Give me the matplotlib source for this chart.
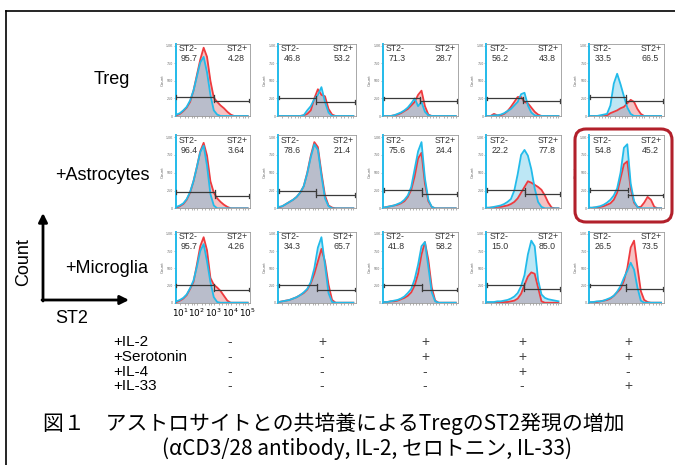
import numpy as np
import matplotlib
matplotlib.use("Agg")
import matplotlib.pyplot as plt
from matplotlib.patches import FancyBboxPatch

# ---------------- data ----------------
# ST2 fluorescence grid (log10 decades)
X = [0.8, 1.0, 1.2, 1.4, 1.6, 1.8, 2.0, 2.2, 2.4, 2.6, 2.8, 3.0, 3.2, 3.4, 3.6, 3.8, 4.0, 4.2, 4.4, 4.6, 4.8, 5.0]

row_labels = ["Treg", "+Astrocytes", "+Microglia"]

# relative counts (fraction of panel max), 5 conditions per row
treg_blue = [
    [0.02,0.04,0.08,0.13,0.22,0.36,0.56,0.76,0.84,0.62,0.30,0.08,0.02,0,0,0,0,0,0,0,0,0],
    [0,0,0,0,0,0,0,0.01,0.08,0.14,0.24,0.30,0.41,0.20,0.05,0,0,0,0,0,0,0],
    [0,0,0,0.01,0.03,0.05,0.08,0.12,0.18,0.25,0.14,0.20,0.06,0.01,0,0,0,0,0,0,0,0],
    [0,0,0.01,0.01,0.02,0.04,0.07,0.10,0.15,0.20,0.31,0.33,0.15,0.05,0.01,0,0,0,0,0,0,0],
    [0,0,0,0.01,0.02,0.03,0.15,0.46,0.60,0.45,0.28,0.12,0.03,0,0,0,0,0,0,0,0,0],
]
treg_red = [
    [0.01,0.03,0.07,0.12,0.20,0.36,0.58,0.80,0.97,0.84,0.50,0.26,0.20,0.15,0.11,0.06,0.02,0,0,0,0,0],
    [0,0,0,0,0,0,0,0.01,0.03,0.08,0.25,0.38,0.30,0.28,0.10,0.02,0,0,0,0,0,0],
    [0,0,0,0.01,0.02,0.04,0.07,0.10,0.15,0.20,0.30,0.36,0.14,0.02,0,0,0,0,0,0,0,0],
    [0,0,0.03,0.01,0.01,0.03,0.07,0.13,0.20,0.27,0.27,0.20,0.18,0.12,0.06,0.02,0,0,0,0,0,0],
    [0,0,0,0,0,0.01,0.04,0.06,0.08,0.11,0.13,0.18,0.23,0.20,0.10,0.03,0,0,0,0,0,0],
]
astro_blue = [
    [0.02,0.04,0.07,0.13,0.23,0.38,0.58,0.79,0.88,0.60,0.20,0.04,0,0,0,0,0,0,0,0,0,0],
    [0.02,0.03,0.06,0.09,0.12,0.16,0.22,0.31,0.49,0.72,0.90,0.82,0.46,0.14,0.03,0,0,0,0,0,0,0],
    [0.01,0.02,0.03,0.04,0.06,0.08,0.12,0.18,0.30,0.55,0.80,0.93,0.42,0.12,0.02,0,0,0,0,0,0,0],
    [0.01,0.01,0.02,0.03,0.04,0.06,0.09,0.13,0.25,0.48,0.75,0.82,0.74,0.55,0.28,0.09,0.02,0,0,0,0,0],
    [0.01,0.01,0.02,0.03,0.05,0.08,0.12,0.18,0.28,0.50,0.85,0.90,0.35,0.10,0.02,0,0,0,0,0,0,0],
]
astro_red = [
    [0.01,0.03,0.06,0.12,0.22,0.38,0.58,0.80,0.92,0.74,0.38,0.22,0.14,0.09,0.05,0.02,0,0,0,0,0,0],
    [0.01,0.03,0.06,0.09,0.12,0.16,0.22,0.31,0.50,0.74,0.93,0.86,0.50,0.18,0.04,0.01,0,0,0,0,0,0],
    [0.01,0.02,0.03,0.04,0.05,0.07,0.10,0.16,0.26,0.45,0.70,0.78,0.35,0.10,0.02,0,0,0,0,0,0,0],
    [0,0.01,0.01,0.02,0.02,0.03,0.04,0.06,0.09,0.14,0.22,0.30,0.38,0.36,0.33,0.30,0.26,0.18,0.08,0.01,0,0],
    [0,0.01,0.01,0.02,0.03,0.05,0.07,0.12,0.22,0.42,0.62,0.66,0.28,0.08,0.02,0.02,0.08,0.16,0.12,0.02,0,0],
]
micro_blue = [
    [0.02,0.04,0.07,0.12,0.21,0.32,0.52,0.75,0.85,0.60,0.30,0.08,0.01,0,0,0,0,0,0,0,0,0],
    [0.01,0.02,0.03,0.04,0.06,0.08,0.11,0.15,0.20,0.30,0.50,0.80,0.95,0.55,0.14,0.01,0,0,0,0,0,0],
    [0.01,0.01,0.02,0.03,0.04,0.06,0.09,0.14,0.20,0.34,0.55,0.82,0.88,0.52,0.15,0.02,0,0,0,0,0,0],
    [0.01,0.01,0.01,0.02,0.02,0.03,0.04,0.06,0.09,0.14,0.24,0.40,0.70,0.90,0.82,0.33,0.12,0.07,0.05,0.04,0.03,0.02],
    [0.01,0.01,0.02,0.02,0.03,0.05,0.07,0.10,0.16,0.24,0.36,0.46,0.58,0.48,0.22,0.03,0,0,0,0,0,0],
]
micro_red = [
    [0.01,0.03,0.06,0.11,0.20,0.30,0.55,0.82,0.95,0.76,0.36,0.26,0.22,0.17,0.10,0.03,0,0,0,0,0,0],
    [0.01,0.02,0.03,0.04,0.06,0.08,0.11,0.14,0.19,0.28,0.42,0.60,0.78,0.60,0.26,0.04,0,0,0,0,0,0],
    [0.01,0.01,0.02,0.02,0.03,0.05,0.07,0.10,0.15,0.25,0.42,0.70,0.88,0.62,0.22,0.03,0,0,0,0,0,0],
    [0,0,0,0,0,0.01,0.01,0.02,0.03,0.06,0.13,0.26,0.38,0.44,0.42,0.22,0.02,0,0,0,0,0],
    [0,0.01,0.01,0.02,0.03,0.04,0.06,0.10,0.15,0.20,0.32,0.50,0.80,0.90,0.52,0.17,0.04,0.01,0,0,0,0],
]

st2_neg = [["95.7", "46.8", "71.3", "56.2", "33.5"],
           ["96.4", "78.6", "75.6", "22.2", "54.8"],
           ["95.7", "34.3", "41.8", "15.0", "26.5"]]
st2_pos = [["4.28", "53.2", "28.7", "43.8", "66.5"],
           ["3.64", "21.4", "24.4", "77.8", "45.2"],
           ["4.26", "65.7", "58.2", "85.0", "73.5"]]

gate_thr = [[3.00, 2.92, 2.92, 2.92, 2.91],
            [3.06, 2.92, 3.01, 3.03, 3.04],
            [3.00, 2.97, 3.00, 3.00, 2.95]]
gate_neg_h = [[0.27, 0.26, 0.25, 0.25, 0.27],
              [0.23, 0.24, 0.26, 0.26, 0.26],
              [0.25, 0.25, 0.25, 0.26, 0.25]]
gate_pos_h = [[0.22, 0.20, 0.21, 0.21, 0.21],
              [0.17, 0.19, 0.20, 0.20, 0.18],
              [0.19, 0.19, 0.19, 0.20, 0.20]]

x_tick_labels = ["$10^{1}$", "$10^{2}$", "$10^{3}$", "$10^{4}$", "$10^{5}$"]

treatments = ["+IL-2", "+Serotonin", "+IL-4", "+IL-33"]
treatment_marks = [["-", "+", "+", "+", "+"],
                   ["-", "-", "+", "+", "+"],
                   ["-", "-", "-", "+", "-"],
                   ["-", "-", "-", "-", "+"]]

caption1 = "図１　アストロサイトとの共培養によるTregのST2発現の増加"
caption2 = "(αCD3/28 antibody, IL-2, セロトニン, IL-33)"

# ---------------- style / layout ----------------
W, H = 675, 465
fig = plt.figure(figsize=(W / 100, H / 100), dpi=100)
fig.patch.set_facecolor("white")

CYAN = "#22BBEA"
RED = "#EE3B3F"
CY_FILL = "#BDE7F5"
RD_FILL = "#F5C2C3"
GR_FILL = "#B9BDCB"
LATIN = "Liberation Sans"

col_left = [175.7, 278.0, 383.0, 486.3, 589.3]
col_w = [74.5, 78.0, 75.3, 74.7, 74.3]
row_top = [43.5, 135.0, 231.7]
row_h = [72.5, 73.3, 71.0]

XL = (0.75, 5.15)

def px_axes(left, top, w, h):
    return fig.add_axes([left / W, 1 - (top + h) / H, w / W, h / H])

blues = [treg_blue, astro_blue, micro_blue]
reds = [treg_red, astro_red, micro_red]
Xa = np.array(X)

for r in range(3):
    for c in range(5):
        ax = px_axes(col_left[c], row_top[r], col_w[c], row_h[r])
        b = np.array(blues[r][c])
        rd = np.array(reds[r][c])
        ax.fill_between(Xa, 0, b, color=CY_FILL, lw=0, zorder=1)
        ax.fill_between(Xa, 0, rd, color=RD_FILL, lw=0, zorder=1)
        ax.fill_between(Xa, 0, np.minimum(b, rd), color=GR_FILL, lw=0, zorder=2)
        ax.plot(Xa, rd, color=RED, lw=1.3, zorder=3)
        ax.plot(Xa, b, color=CYAN, lw=1.3, zorder=4)
        # gates
        t = gate_thr[r][c]
        gl, gr = gate_neg_h[r][c], gate_pos_h[r][c]
        gx0, gx1 = 0.78, 5.1
        gk = dict(color="#3a3a3a", lw=0.9, zorder=5)
        ax.plot([gx0, t], [gl, gl], **gk)
        ax.plot([t, gx1], [gr, gr], **gk)
        for xx, yy in [(gx0, gl), (t, gl), (t, gr), (gx1, gr)]:
            ax.plot([xx, xx], [yy - 0.025, yy + 0.025], **gk)
        ax.set_xlim(*XL)
        ax.set_ylim(0, 1.03)
        # axes styling
        for s in ["top", "right", "bottom"]:
            ax.spines[s].set_color("#9a9a9a")
            ax.spines[s].set_linewidth(0.6)
        ax.spines["left"].set_color(CYAN)
        ax.spines["left"].set_linewidth(1.4)
        ax.set_yticks([0, 0.25, 0.5, 0.75, 1.0])
        ax.set_yticklabels(["0", "250", "500", "750", "1.0K"], fontsize=2.3, color="#666")
        ax.set_ylabel("Count", fontsize=2.8, color="#666", labelpad=1)
        ax.set_xticks([1, 2, 3, 4, 5])
        ax.set_xticks([1.3, 1.5, 1.7, 1.85, 2.3, 2.5, 2.7, 2.85, 3.3, 3.5, 3.7, 3.85,
                       4.3, 4.5, 4.7, 4.85], minor=True)
        ax.tick_params(axis="both", which="both", length=1.3, width=0.4, color="#777", pad=0.5)
        if r == 2 and c == 0:
            ax.set_xticklabels(x_tick_labels, fontsize=6.4, family=["DejaVu Sans"])
            ax.tick_params(axis="x", which="major", pad=1.5)
        else:
            ax.set_xticklabels([])
        # percentages
        tk = dict(transform=ax.transAxes, fontsize=6.3, color="#333", family=LATIN, zorder=6)
        ax.text(0.04, 0.99, "ST2-", ha="left", va="top", **tk)
        ax.text(0.07, 0.85, st2_neg[r][c], ha="left", va="top", **tk)
        ax.text(0.97, 0.99, "ST2+", ha="right", va="top", **tk)
        ax.text(0.93, 0.85, st2_pos[r][c], ha="right", va="top", **tk)

# ---------------- overlay (pixel coordinates) ----------------
ov = fig.add_axes([0, 0, 1, 1])
ov.set_xlim(0, W)
ov.set_ylim(H, 0)
ov.axis("off")

# outer frame
ov.plot([6, 6], [11, H + 5], color="k", lw=1.2, clip_on=False)
ov.plot([6, W + 5], [11, 11], color="k", lw=1.2, clip_on=False)

# row labels
label_pos = [(112, 80), (102, 175), (107, 268)]
for lab, (x, y) in zip(row_labels, label_pos):
    ov.text(x, y, lab, ha="center", va="center", fontsize=13, family=LATIN)

# Count / ST2 arrows
ov.annotate("", xy=(43, 213), xytext=(43, 301),
            arrowprops=dict(arrowstyle="-|>", lw=2.0, color="k", mutation_scale=13,
                            shrinkA=0, shrinkB=0))
ov.annotate("", xy=(129, 300), xytext=(42, 300),
            arrowprops=dict(arrowstyle="-|>", lw=2.0, color="k", mutation_scale=13,
                            shrinkA=0, shrinkB=0))
ov.text(24, 262, "Count", rotation=90, ha="center", va="center", fontsize=13, family=LATIN)
ov.text(72, 318, "ST2", ha="center", va="center", fontsize=13, family=LATIN)

# highlight box
ov.add_patch(FancyBboxPatch((575, 129), 97, 93, boxstyle="round,pad=0,rounding_size=11",
                            fill=False, ec="#B2202B", lw=2.2, zorder=10))

# treatment table
mark_x = [230, 322, 425, 522, 628]
row_y = [342, 357, 372, 386]
for lab, marks, y in zip(treatments, treatment_marks, row_y):
    ov.text(113, y, lab, ha="left", va="center", fontsize=11, family=LATIN)
    for m, x in zip(marks, mark_x):
        ov.text(x, y, m, ha="center", va="center", fontsize=10, family=LATIN, color="#444")

# caption
CJK = ["Noto Sans CJK JP", "DejaVu Sans"]
ov.text(43, 424, caption1, ha="left", va="center", fontsize=15, family=CJK)
ov.text(367, 449, caption2, ha="center", va="center", fontsize=15, family=CJK)

fig.savefig("out.png", dpi=100)
